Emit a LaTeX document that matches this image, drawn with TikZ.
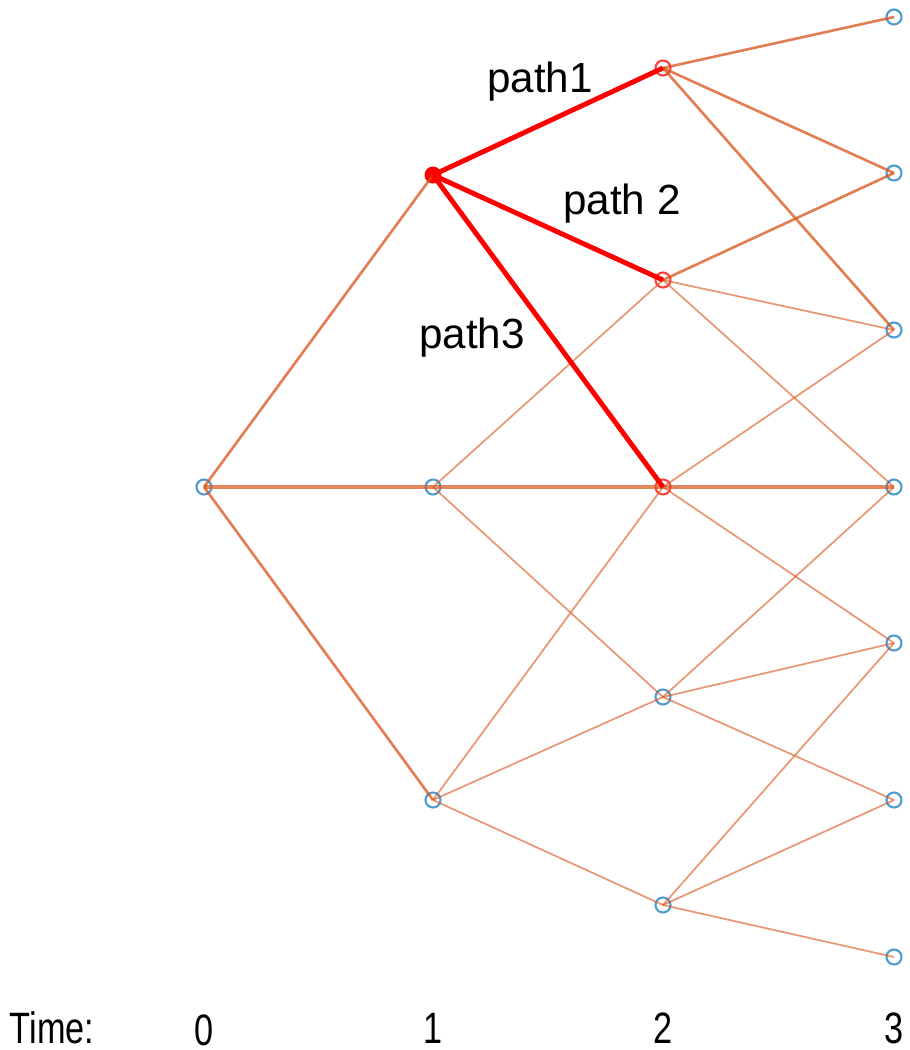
\documentclass[tikz,border=0pt]{standalone}
\usepackage{fontspec}
\setmainfont{Liberation Sans}
\usetikzlibrary{positioning}
\definecolor{treeorange}{RGB}{217,83,25}
\definecolor{treeblue}{RGB}{0,114,189}

\tikzset{
  state/.style={circle, draw=treeblue, draw opacity=0.7, line width=0.6pt, inner sep=0pt, minimum size=0.15cm},
  hit/.style={state, draw=red, draw opacity=0.75},
  start/.style={circle, fill=red, inner sep=0pt, minimum size=0.17cm},
  twig/.style={draw=treeorange, draw opacity=0.6, line width=0.5pt},
  branch/.style={draw=treeorange, draw opacity=0.75, line width=0.75pt},
  trunk/.style={draw=treeorange, draw opacity=0.7, line width=1.1pt},
  chosen/.style={draw=red, line width=1.4pt},
  lbl/.style={font=\fontsize{12}{14}\selectfont, inner sep=1pt},
  tick/.style={font=\fontsize{12.5}{14}\selectfont, inner sep=1pt, xscale=0.78}
}

\begin{document}
\begin{tikzpicture}
    \useasboundingbox (0,0) rectangle (9.1,-10.5);
    % states at each time step
    \node[state] (t0) at (2.04,-4.87) {};
    \node[start] (u1) at (4.33,-1.75) {};
    \node[state] (m1) at (4.33,-4.87) {};
    \node[state] (d1) at (4.33,-8.00) {};
    \node[hit]   (a2) at (6.63,-0.68) {};
    \node[hit]   (b2) at (6.63,-2.80) {};
    \node[hit]   (c2) at (6.63,-4.87) {};
    \node[state] (d2) at (6.63,-6.97) {};
    \node[state] (e2) at (6.63,-9.05) {};
    \node[state] (a3) at (8.94,-0.17) {};
    \node[state] (b3) at (8.94,-1.73) {};
    \node[state] (c3) at (8.94,-3.30) {};
    \node[state] (d3) at (8.94,-4.87) {};
    \node[state] (e3) at (8.94,-6.43) {};
    \node[state] (f3) at (8.94,-8.00) {};
    \node[state] (g3) at (8.94,-9.57) {};

    % branches
    \foreach \p/\q in {m1/b2, m1/d2, d1/c2, d1/d2, d1/e2, b2/c3, b2/d3,
                       c2/c3, c2/e3, d2/d3, d2/e3, d2/f3, e2/e3, e2/f3, e2/g3}
        \draw[twig] (\p.center) -- (\q.center);
    \foreach \p/\q in {t0/u1, t0/d1, a2/a3, a2/b3, a2/c3, b2/b3}
        \draw[branch] (\p.center) -- (\q.center);
    \foreach \p/\q in {t0/m1, m1/c2, c2/d3}
        \draw[trunk] (\p.center) -- (\q.center);
    \foreach \q in {a2, b2, c2}
        \draw[chosen] (u1.center) -- (\q.center);

    % path labels
    \node[lbl] (p1) at (5.40,-0.82) {path1};
    \node[lbl] (p2) at (6.22,-2.04) {path 2};
    \node[lbl] (p3) at (4.72,-3.38) {path3};

    % time axis
    \node[tick] (time) at (0.52,-10.28) {Time:};
    \node[tick] (x0) at (2.04,-10.30) {0};
    \node[tick] (x1) at (4.33,-10.28) {1};
    \node[tick] (x2) at (6.63,-10.28) {2};
    \node[tick] (x3) at (8.94,-10.28) {3};
\end{tikzpicture}
\end{document}
